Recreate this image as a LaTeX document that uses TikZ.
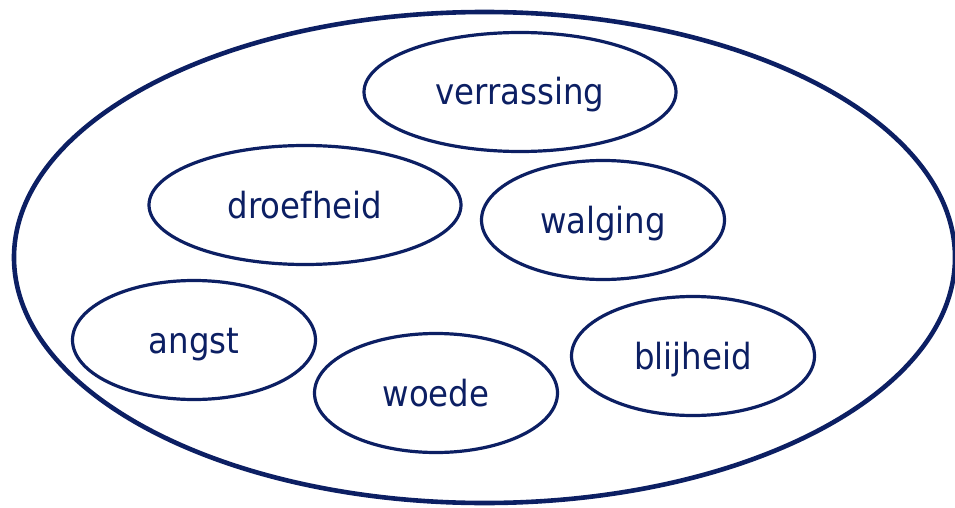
\documentclass[tikz,border=0pt]{standalone}
\usepackage{fontspec}
\setmainfont{DejaVu Sans Condensed}
\usetikzlibrary{shapes.geometric}
\definecolor{navy}{RGB}{12,31,99}
\begin{document}
\begin{tikzpicture}[x=1pt,y=-1pt,
  every node/.style={align=center},
  feeling/.style={draw=navy, line width=3.2pt, ellipse, inner sep=0pt,
    minimum height=119pt, text height=26pt, text depth=0pt,
    text=navy, font=\fontsize{36}{42}\selectfont}]
  \useasboundingbox (0,0) rectangle (955,508);
  \node[draw=navy, line width=4.6pt, ellipse, minimum width=941pt, minimum height=491pt] (all) at (484.5,257.5){};
  \node[feeling, minimum width=312pt] (verrassing) at (520,92){verrassing};
  \node[feeling, minimum width=312pt] (droefheid) at (305,205){droefheid};
  \node[feeling, minimum width=243pt] (walging) at (603,220){walging};
  \node[feeling, minimum width=243pt] (angst) at (194,340){angst};
  \node[feeling, minimum width=243pt] (woede) at (436,393){woede};
  \node[feeling, minimum width=243pt] (blijheid) at (693,356){blijheid};
\end{tikzpicture}
\end{document}
